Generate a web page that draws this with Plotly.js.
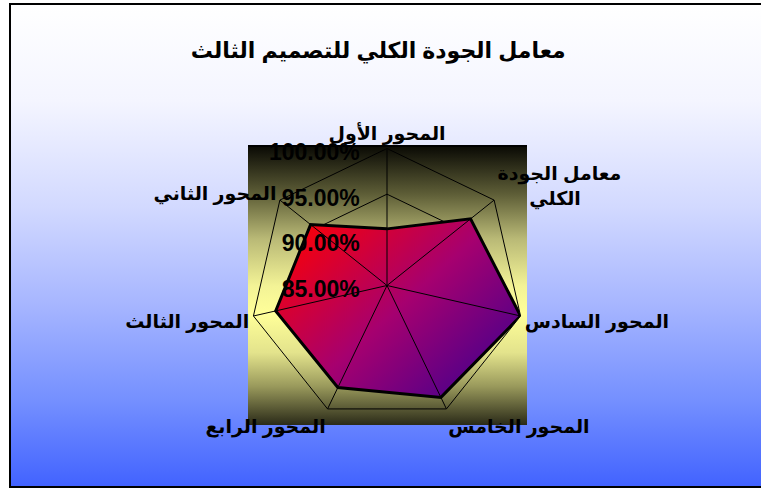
<!DOCTYPE html>
<html>
<head>
<meta charset="utf-8">
<script src="https://cdn.plot.ly/plotly-3.0.1.min.js"></script>
<style>
html,body{margin:0;padding:0;background:#ffffff;}
#wrap{position:relative;width:761px;height:490px;overflow:hidden;}
#chartbg{position:absolute;left:9px;top:3px;width:760px;height:485px;box-sizing:border-box;border:2px solid #000;
  background:linear-gradient(to bottom,#ffffff 0%,#f4f5ff 20%,#d2d9ff 42%,#a7b6ff 62%,#7590ff 82%,#4263ff 100%);}
#plotbg{position:absolute;left:248px;top:145px;width:279px;height:280px;box-sizing:border-box;border-top:2px solid #000;
  background:linear-gradient(to bottom,#0b0b05 0%,#5e5e37 17%,#b9b976 33%,#f3f396 50%,#ffff99 60%,#e3e38c 74%,#9a9a5c 86%,#2a2a18 100%);}
#chart{position:absolute;left:0;top:0;width:761px;height:490px;}
</style>
</head>
<body>
<div id="wrap">
  <div id="chartbg"></div>
  <div id="plotbg"></div>
  <div id="chart"></div>
</div>
<script>
// ---- data ----
const chartTitle = 'معامل الجودة الكلي للتصميم الثالث';
const categories = ['المحور الأول','المحور الثاني','المحور الثالث','المحور الرابع','المحور الخامس','المحور السادس','معامل الجودة الكلي'];
const tickLabels = ['المحور الأول','المحور الثاني','المحور الثالث','المحور الرابع','المحور الخامس','المحور السادس','معامل الجودة<br>\u00a0\u00a0\u00a0\u00a0\u00a0\u00a0الكلي'];
const values = [0.912, 0.957, 0.975, 0.974, 0.986, 1.000, 0.967];
const radialTicks = [0.85, 0.90, 0.95, 1.00];
const radialRange = [0.85, 1.00];

// ---- derived ----
const closedTheta = categories.concat([categories[0]]);
const closedR = values.concat([values[0]]);
const spokeTheta = [], spokeR = [];
categories.forEach(function(c){ spokeTheta.push(c, c, c); spokeR.push(radialRange[0], radialRange[1], null); });

const arFont = 'Liberation Sans, Arial, DejaVu Sans, sans-serif';

const traces = [
  {type:'scatterpolar', r: values, theta: categories, mode:'none', fill:'toself',
   fillcolor:'#b0005e', hoverinfo:'skip'},
  {type:'scatterpolar', r: spokeR, theta: spokeTheta, mode:'lines',
   line:{color:'#000', width:1}, connectgaps:false, hoverinfo:'skip'},
  {type:'scatterpolar', r: closedR, theta: closedTheta, mode:'lines',
   line:{color:'#000', width:3}, hoverinfo:'skip'}
];

const layout = {
  width:761, height:490, autosize:false,
  margin:{l:0,r:0,t:0,b:0},
  paper_bgcolor:'rgba(0,0,0,0)', plot_bgcolor:'rgba(0,0,0,0)',
  showlegend:false, hovermode:false,
  title:{text: chartTitle, x:0.497, xanchor:'center', y:0.898, yanchor:'middle',
         font:{family: arFont, size:22, weight:'bold', color:'#000'}},
  polar:{
    domain:{x:[250/761, 524/761], y:[1-422.5/490, 1-148.5/490]},
    bgcolor:'rgba(0,0,0,0)',
    gridshape:'linear',
    angularaxis:{type:'category', categoryarray: categories, direction:'counterclockwise', rotation:90,
      tickmode:'array', tickvals: categories, ticktext: tickLabels,
      showgrid:false, showline:true, linecolor:'#000', linewidth:1,
      ticks:'', 
      tickfont:{family: arFont, size:19, weight:'bold', color:'#000'}},
    radialaxis:{range: radialRange, tickmode:'array', tickvals: radialTicks, tickformat:'.2%',
      angle:90, side:'counterclockwise', showline:false,
      ticks:'outside', ticklen:6, tickcolor:'rgba(0,0,0,0)',
      showgrid:true, gridcolor:'#000', gridwidth:1,
      tickfont:{family: arFont, size:23, weight:'bold', color:'#000'}}
  }
};

Plotly.newPlot('chart', traces, layout, {staticPlot:true, displayModeBar:false}).then(function(){
  const svg = document.querySelector('#chart .main-svg');
  let defs = svg.querySelector('defs');
  const NS = 'http://www.w3.org/2000/svg';
  if(!defs){ defs = document.createElementNS(NS,'defs'); svg.insertBefore(defs, svg.firstChild); }
  const lg = document.createElementNS(NS,'linearGradient');
  lg.setAttribute('id','dataGrad');
  lg.setAttribute('x1','0'); lg.setAttribute('y1','0.1');
  lg.setAttribute('x2','1'); lg.setAttribute('y2','0.9');
  [['0','#ff0000'],['0.5','#a6006f'],['1','#3c0090']].forEach(function(s){
    const st = document.createElementNS(NS,'stop');
    st.setAttribute('offset', s[0]); st.setAttribute('stop-color', s[1]);
    lg.appendChild(st);
  });
  defs.appendChild(lg);
  const fills = document.querySelectorAll('#chart .polarlayer .trace path.js-fill');
  if(fills.length){ fills[0].style.fill = 'url(#dataGrad)'; }
});
</script>
</body>
</html>
